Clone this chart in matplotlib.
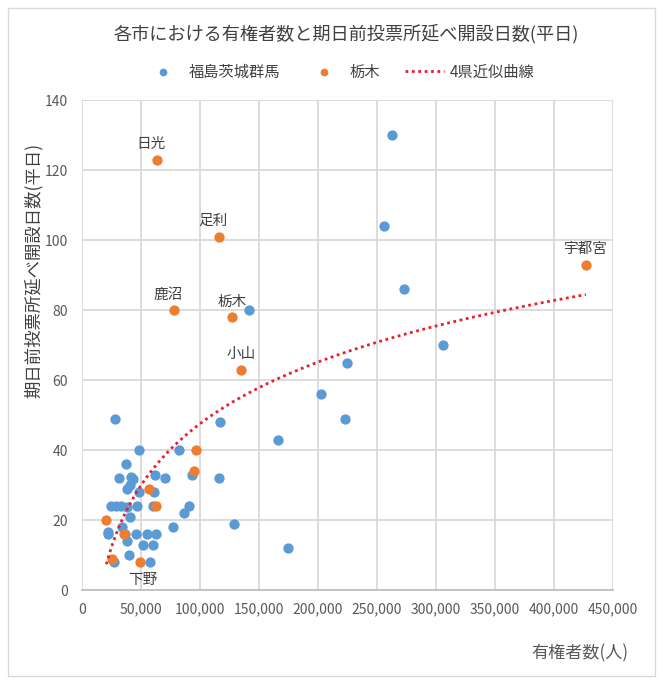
import numpy as np
import matplotlib
matplotlib.use("Agg")
import matplotlib.pyplot as plt
from matplotlib.patches import Rectangle
from matplotlib.ticker import FuncFormatter

plt.rcParams['font.family'] = ['Noto Sans CJK JP', 'DejaVu Sans']

# 福島茨城群馬 (blue)
blue_x = [28200, 48000, 82500, 37000, 31600, 41300, 43500, 37900, 40700,
          48600, 61600, 70100, 61000, 93500, 24900, 28500, 32800, 37900,
          46300, 59900, 40700, 90400, 86400, 77100, 22000, 22300, 33900, 38400,
          36700, 45800, 54800, 62700, 52000, 59900, 39500, 27100, 57600,
          262700, 255700, 272600, 141300, 305700, 224600, 202300, 223200, 166100,
          117200, 115800, 128800, 174600]
blue_y = [49, 40, 40, 36, 32, 32.2, 31.7, 29, 30,
          28, 33, 32, 28, 33, 24, 24, 24, 23.8,
          24, 24, 21, 24, 22, 18, 16.7, 15.9, 18, 14,
          16, 16, 16, 16, 13, 13, 10, 8, 8,
          130, 104, 86, 80, 70, 65, 56, 49, 43,
          48, 32, 19, 12]

# 栃木 (orange)
orange_x = [63560, 116100, 78000, 127100, 134750, 427000, 96600, 94650, 20600, 25400,
            49400, 35850, 57000, 62700]
orange_y = [123, 101, 80, 78, 63, 93, 40, 34, 20, 9,
            8, 16, 29, 24]
orange_names = ['日光', '足利', '鹿沼', '栃木', '小山', '宇都宮', '', '', '', '',
                '下野', '', '', '']

x_ticks = list(range(0, 450001, 50000))
y_ticks = list(range(0, 141, 20))

fig = plt.figure(figsize=(6.63, 6.83), dpi=100)
fig.patches.append(Rectangle((8/663, 1-676/683), 647/663, 668/683, transform=fig.transFigure,
                             fill=False, edgecolor='#D9D9D9', linewidth=1.0))
ax = fig.add_axes([82/663, 1-590/683, 531/663, 490/683])

blue_c = '#5B9BD5'
orange_c = '#ED7D31'
ax.scatter(blue_x, blue_y, s=55, color=blue_c, zorder=3, linewidths=0, label='福島茨城群馬')
ax.scatter(orange_x, orange_y, s=55, color=orange_c, zorder=4, linewidths=0, label='栃木')

# logarithmic trend line over all points
all_x = np.array(blue_x + orange_x, dtype=float)
all_y = np.array(blue_y + orange_y, dtype=float)
a, b = np.polyfit(np.log(all_x), all_y, 1)
tx = np.linspace(all_x.min(), all_x.max(), 300)
ax.plot(tx, a*np.log(tx)+b, linestyle=(0, (1, 1.3)), color='#E8202A', linewidth=2.0,
        zorder=5, label='4県近似曲線')

for xv, yv, nm in zip(orange_x, orange_y, orange_names):
    if not nm:
        continue
    if nm == '下野':
        ax.annotate(nm, (xv, yv), xytext=(2, -8), textcoords='offset points',
                    ha='center', va='top', fontsize=10.5, color='#404040')
    else:
        ax.annotate(nm, (xv, yv), xytext=(-4 if nm in ('日光', '足利', '鹿沼') else 0, 6),
                    textcoords='offset points', ha='center', va='bottom', fontsize=10.5,
                    color='#404040')

ax.set_xlim(0, 450000)
ax.set_ylim(0, 140)
ax.set_xticks(x_ticks)
ax.set_yticks(y_ticks)
ax.xaxis.set_major_formatter(FuncFormatter(lambda v, p: f'{int(v):,}'))
ax.grid(True, color='#D9D9D9', linewidth=1.3, zorder=0)
ax.set_axisbelow(True)
for s in ['top', 'right', 'left']:
    ax.spines[s].set_visible(False)
ax.spines['bottom'].set_color('#BFBFBF')
ax.spines['bottom'].set_linewidth(1.3)
ax.tick_params(axis='both', length=0, labelsize=10, labelcolor='#595959')
ax.tick_params(axis='x', pad=9)
ax.tick_params(axis='y', pad=10)

fig.text(346/663, 1-34/683, '各市における有権者数と期日前投票所延べ開設日数(平日)', ha='center', va='center',
         fontsize=13.1, color='#404040')
fig.text(34/663, 1-270/683, '期日前投票所延べ開設日数(平日)', rotation=90, ha='center', va='center',
         fontsize=12.5, color='#404040')
fig.text(580/663, 1-653/683, '有権者数(人)', ha='center', va='center', fontsize=12.3, color='#595959')

h, l = ax.get_legend_handles_labels()
fig.legend(h, l, loc='center', bbox_to_anchor=(339/663, 1-72/683), ncol=3, frameon=False,
           fontsize=11, labelcolor='#404040', handlelength=2.6, columnspacing=1.6,
           handletextpad=0.35, markerscale=0.75)

fig.savefig('out.png', dpi=100)
